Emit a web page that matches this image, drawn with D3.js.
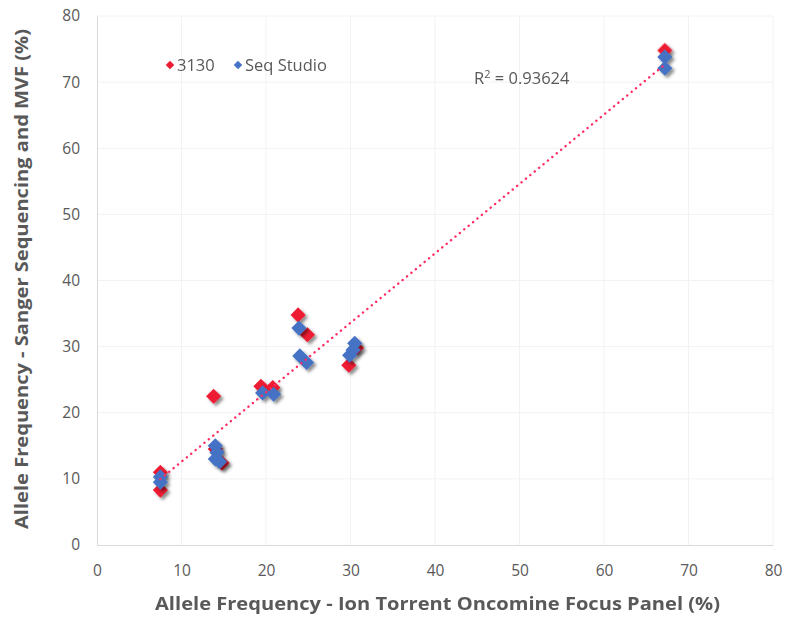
<!DOCTYPE html>
<html lang="en">
  <head>
    <meta charset="UTF-8" />
    <title>Allele Frequency Scatter</title>
    <script src="https://d3js.org/d3.v7.min.js"></script>
    <style>
      body { margin: 0; background: #fff; }
      text { font-family: "Open Sans", "Noto Sans", sans-serif; fill: #595959; }
    </style>
  </head>
  <body>
    <svg width="792" height="617"></svg>

    <script>
      // series
      const x3130 = [7.5, 7.5, 13.8, 14.0, 14.8, 19.4, 20.8, 23.8, 24.9, 29.8, 30.7, 67.2];
      const y3130 = [11.0, 8.3, 22.5, 14.5, 12.4, 24.0, 23.8, 34.8, 31.8, 27.2, 29.8, 74.8];
      const xSeq = [7.5, 7.5, 14.0, 14.2, 14.0, 14.5, 19.6, 20.9, 23.9, 24.0, 24.8, 29.9, 30.5, 30.3, 67.2, 67.2];
      const ySeq = [9.5, 10.3, 15.0, 14.0, 13.0, 12.6, 23.0, 22.8, 32.8, 28.6, 27.6, 28.7, 30.5, 29.5, 73.8, 72.1];
      const xTicks = [0, 10, 20, 30, 40, 50, 60, 70, 80];
      const yTicks = [0, 10, 20, 30, 40, 50, 60, 70, 80];
      // linear trendline as displayed
      const trendSlope = 1.05, trendIntercept = 2.1;
      const trendRange = [7.5, 67.2];
      const r2Label = "0.93624";

      const svg = d3.select("svg");
      const plotLeft = 97, plotRight = 773, plotTop = 16, plotBottom = 545;

      const x = d3.scaleLinear().domain([0, 80]).range([plotLeft, plotRight]);
      const y = d3.scaleLinear().domain([0, 80]).range([plotBottom, plotTop]);

      const defs = svg.append("defs");
      defs.append("filter")
        .attr("id", "shadow")
        .attr("x", "-50%").attr("y", "-50%")
        .attr("width", "200%").attr("height", "200%")
        .append("feDropShadow")
        .attr("dx", 2.5).attr("dy", 2.5)
        .attr("stdDeviation", 1.8)
        .attr("flood-color", "#000")
        .attr("flood-opacity", 0.45);

      //gridlines
      svg.append("g")
        .selectAll("line")
        .data(xTicks.slice(1))
        .join("line")
        .attr("x1", d => x(d)).attr("x2", d => x(d))
        .attr("y1", plotTop).attr("y2", plotBottom)
        .attr("stroke", "#f2f2f2");
      svg.append("g")
        .selectAll("line")
        .data(yTicks.slice(1))
        .join("line")
        .attr("x1", plotLeft).attr("x2", plotRight)
        .attr("y1", d => y(d)).attr("y2", d => y(d))
        .attr("stroke", "#f2f2f2");

      //axes
      const xAxis = svg.append("g")
        .attr("transform", `translate(0,${plotBottom})`)
        .call(d3.axisBottom(x).tickValues(xTicks).tickSize(0).tickPadding(20));
      const yAxis = svg.append("g")
        .attr("transform", `translate(${plotLeft},0)`)
        .call(d3.axisLeft(y).tickValues(yTicks).tickSize(0).tickPadding(17));
      [xAxis, yAxis].forEach(a => {
        a.select(".domain").attr("stroke", "#d9d9d9");
        a.selectAll("text").attr("font-size", 15.5).attr("fill", "#595959")
          .style("font-family", "'Open Sans', sans-serif");
      });

      const diamond = d3.symbol().type(d3.symbolSquare).size(115);

      function plotSeries(xs, ys, color) {
        svg.append("g")
          .attr("filter", "url(#shadow)")
          .selectAll("path")
          .data(xs.map((d, i) => [d, ys[i]]))
          .join("path")
          .attr("d", diamond)
          .attr("transform", d => `translate(${x(d[0])},${y(d[1])}) rotate(45)`)
          .attr("fill", color);
      }
      plotSeries(x3130, y3130, "#ee1c33");
      plotSeries(xSeq, ySeq, "#4472c4");

      //trendline
      svg.append("line")
        .attr("x1", x(trendRange[0]))
        .attr("y1", y(trendSlope * trendRange[0] + trendIntercept))
        .attr("x2", x(trendRange[1]))
        .attr("y2", y(trendSlope * trendRange[1] + trendIntercept))
        .attr("stroke", "#ff2d63")
        .attr("stroke-width", 2.4)
        .attr("stroke-linecap", "round")
        .attr("stroke-dasharray", "0.1 5.6");

      const r2 = svg.append("text")
        .attr("x", 474).attr("y", 84)
        .attr("font-size", 16.5);
      r2.append("tspan").text("R");
      r2.append("tspan").attr("dy", -6).attr("font-size", 11).text("2");
      r2.append("tspan").attr("dy", 6).text(" = " + r2Label);

      //legend
      const legend = [["3130", "#ee1c33", 170], ["Seq Studio", "#4472c4", 238]];
      legend.forEach(([label, color, lx]) => {
        svg.append("path")
          .attr("d", d3.symbol().type(d3.symbolSquare).size(36)())
          .attr("transform", `translate(${lx},65) rotate(45)`)
          .attr("fill", color);
        svg.append("text")
          .attr("x", lx + 7).attr("y", 71)
          .attr("font-size", 16.5)
          .text(label);
      });

      //axis titles
      svg.append("text")
        .attr("x", (155 + 720) / 2).attr("y", 610)
        .attr("text-anchor", "middle")
        .attr("font-size", 17).attr("font-weight", "bold")
        .attr("textLength", 565).attr("lengthAdjust", "spacingAndGlyphs")
        .text("Allele Frequency - Ion Torrent Oncomine Focus Panel (%)");
      svg.append("text")
        .attr("transform", "translate(28,279) rotate(-90)")
        .attr("text-anchor", "middle")
        .attr("font-size", 17).attr("font-weight", "bold")
        .attr("textLength", 500).attr("lengthAdjust", "spacingAndGlyphs")
        .text("Allele Frequency - Sanger Sequencing and MVF (%)");
    </script>
  </body>
</html>
